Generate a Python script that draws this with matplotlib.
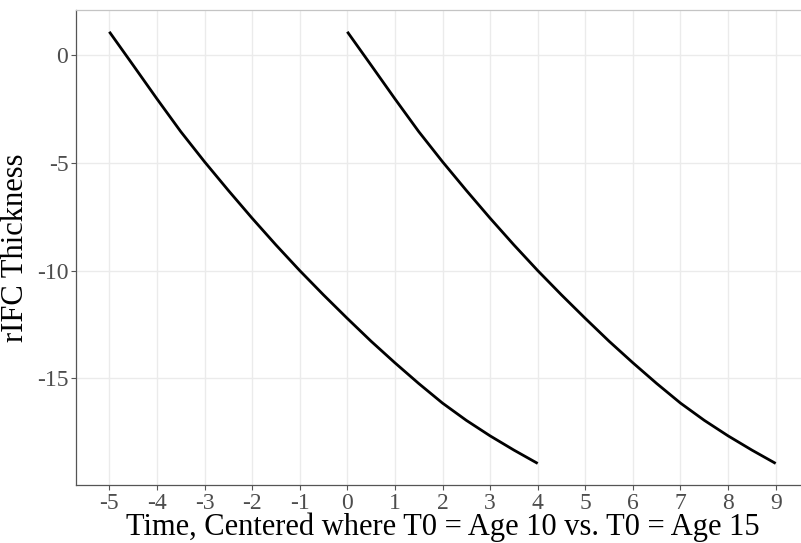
import matplotlib
matplotlib.use("Agg")
import matplotlib.pyplot as plt
import matplotlib.ticker as mticker

# Fitted trajectories at half-unit steps
time_age10 = [-5, -4.5, -4, -3.5, -3, -2.5, -2, -1.5, -1, -0.5,
              0, 0.5, 1, 1.5, 2, 2.5, 3, 3.5, 4]
thick_age10 = [1.08, -0.47, -2.03, -3.55, -4.95, -6.28, -7.57, -8.81, -10.00, -11.13,
               -12.22, -13.28, -14.28, -15.24, -16.15, -16.95, -17.67, -18.33, -18.95]
time_age15 = [0, 0.5, 1, 1.5, 2, 2.5, 3, 3.5, 4, 4.5,
              5, 5.5, 6, 6.5, 7, 7.5, 8, 8.5, 9]
thick_age15 = [1.08, -0.47, -2.03, -3.55, -4.95, -6.28, -7.57, -8.81, -10.00, -11.13,
               -12.22, -13.28, -14.28, -15.24, -16.15, -16.95, -17.67, -18.33, -18.95]

x_ticks = list(range(-5, 10))
y_ticks = [0, -5, -10, -15]

plt.rcParams["font.family"] = ["Liberation Serif", "DejaVu Serif"]

fig = plt.figure(figsize=(8.01, 5.43), dpi=100)
ax = fig.add_axes([76 / 801, 58 / 543, 733 / 801, 475 / 543])

ax.plot(time_age10, thick_age10, color="black", lw=2.0, solid_capstyle="butt",
        solid_joinstyle="round", zorder=3)
ax.plot(time_age15, thick_age15, color="black", lw=2.0, solid_capstyle="butt",
        solid_joinstyle="round", zorder=3)

ax.set_xlim(-5.7, 9.7)
ax.set_ylim(-19.95, 2.09)
ax.set_xticks(x_ticks)
ax.set_yticks(y_ticks)
fmt = mticker.FuncFormatter(lambda v, p: f"{int(v)}")
ax.xaxis.set_major_formatter(fmt)
ax.yaxis.set_major_formatter(fmt)

ax.grid(True, color="#EBEBEB", lw=1.0, zorder=0)
ax.set_axisbelow(True)

for side in ["left", "bottom"]:
    ax.spines[side].set_color("#555555")
    ax.spines[side].set_linewidth(0.9)
for side in ["top", "right"]:
    ax.spines[side].set_color("#C4C4C4")
    ax.spines[side].set_linewidth(0.9)

ax.tick_params(axis="both", length=3.5, width=0.8, color="#555555",
               labelcolor="#4D4D4D", labelsize=17, pad=2)

ax.set_xlabel("Time, Centered where T0 = Age 10 vs. T0 = Age 15", fontsize=22, labelpad=-1)
ax.set_ylabel("rIFC Thickness", fontsize=22, labelpad=5)

fig.savefig("out.png", dpi=100)
